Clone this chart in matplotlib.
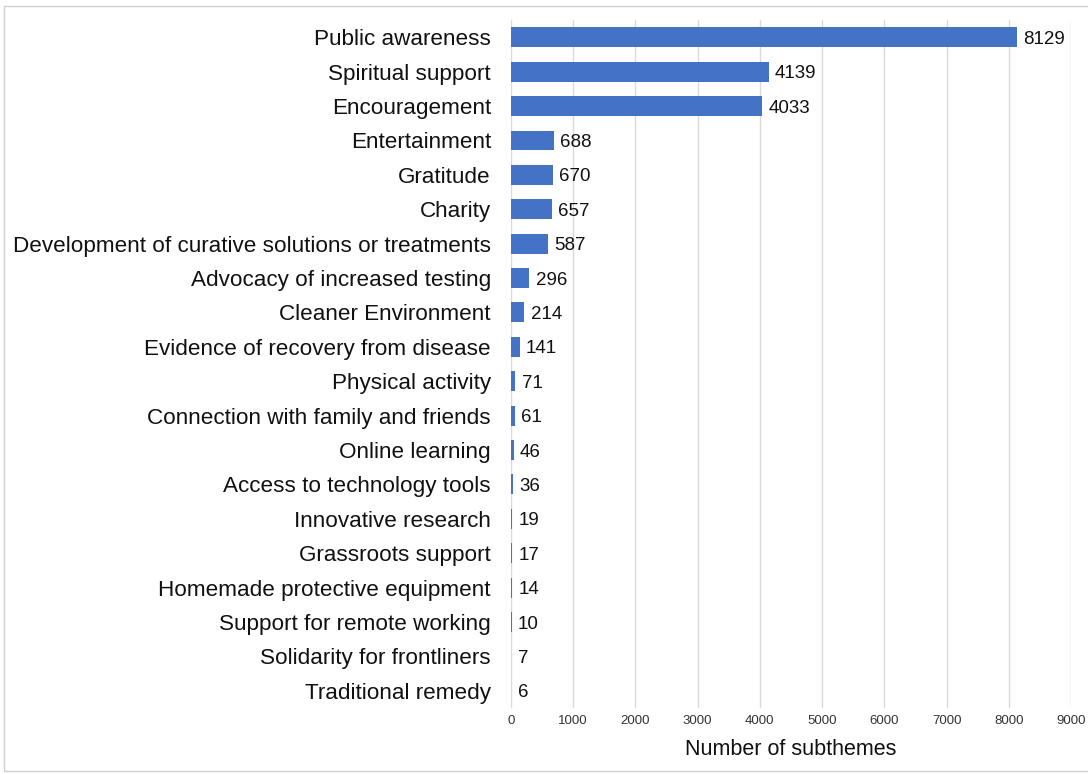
import matplotlib
matplotlib.use("Agg")
import matplotlib.pyplot as plt
from matplotlib.patches import Rectangle

categories = ["Public awareness", "Spiritual support", "Encouragement", "Entertainment",
              "Gratitude", "Charity", "Development of curative solutions or treatments",
              "Advocacy of increased testing", "Cleaner Environment",
              "Evidence of recovery from disease", "Physical activity",
              "Connection with family and friends", "Online learning",
              "Access to technology tools", "Innovative research", "Grassroots support",
              "Homemade protective equipment", "Support for remote working",
              "Solidarity for frontliners", "Traditional remedy"]
values = [8129, 4139, 4033, 688, 670, 657, 587, 296, 214, 141, 71, 61, 46, 36, 19, 17, 14, 10, 7, 6]
xticks = list(range(0, 9001, 1000))

plt.rcParams['font.family'] = ['Liberation Sans', 'DejaVu Sans']
fig = plt.figure(figsize=(10.88, 7.74), dpi=100)
ax = fig.add_axes([0.4697, 0.0853, 0.5147, 0.8887])

y = list(range(len(categories)))
ax.barh(y, values, height=0.58, color="#4472C4", zorder=3)
for yi, v in zip(y, values):
    ax.text(v + 100, yi + 0.06, str(v), va="center", ha="left", fontsize=13.5, color="#111111")
ax.set_yticks(y)
ax.set_yticklabels(categories, fontsize=16.2, color="#111111")
ax.set_ylim(len(categories) - 0.5, -0.5)
ax.set_xlim(0, 9000)
ax.set_xticks(xticks)
ax.set_xticklabels([str(t) for t in xticks], fontsize=9.5, color="#333333")
ax.grid(axis="x", color="#d9d9d9", linewidth=1, zorder=0)
for s in ax.spines.values():
    s.set_visible(False)
ax.tick_params(axis="both", length=0)
ax.tick_params(axis="y", pad=14.5)
ax.tick_params(axis="x", pad=5)
ax.set_xlabel("Number of subthemes", fontsize=15.5, color="#111111", labelpad=9)

fig.patches.append(Rectangle((0.004, 0.004), 1.2, 0.988, transform=fig.transFigure,
                             fill=False, edgecolor="#d0d0d0", linewidth=1))
fig.savefig("out.png", dpi=100)
